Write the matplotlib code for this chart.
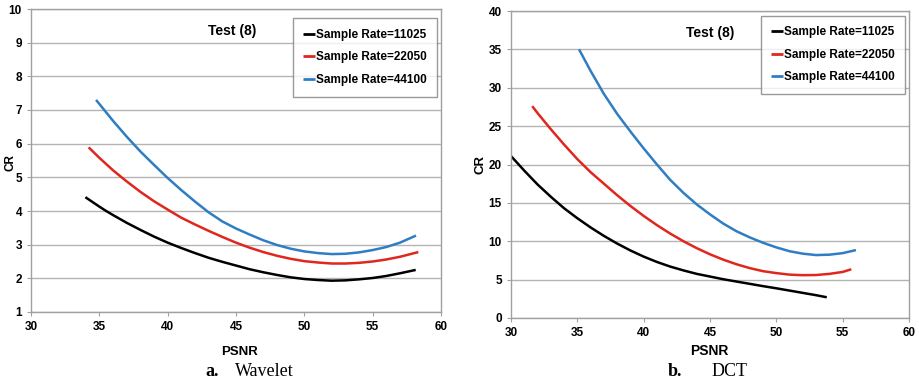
import matplotlib
matplotlib.use("Agg")
import matplotlib.pyplot as plt

# ---- data ----
wav_black_x = [33.98, 35, 35.5, 36, 37, 38, 39, 40, 41, 42, 43, 44, 45, 46, 47, 48, 49, 50,
               51, 52, 53, 54, 55, 56, 57, 58.15]
wav_black_y = [4.41, 4.13, 4.00, 3.88, 3.65, 3.44, 3.24, 3.06, 2.90, 2.75, 2.61, 2.49, 2.38,
               2.27, 2.18, 2.10, 2.03, 1.98, 1.95, 1.93, 1.94, 1.97, 2.01, 2.07, 2.15, 2.25]
wav_red_x = [34.22, 35, 36, 36.63, 37, 38, 39, 40.17, 41, 42, 43, 44, 45, 46, 47, 48, 49, 50,
             51, 52, 53, 54, 55, 56, 57, 58.34]
wav_red_y = [5.89, 5.58, 5.21, 5.00, 4.88, 4.57, 4.29, 4.00, 3.80, 3.60, 3.41, 3.23, 3.06,
             2.91, 2.78, 2.67, 2.58, 2.51, 2.47, 2.44, 2.44, 2.46, 2.50, 2.56, 2.64, 2.78]
wav_blue_x = [34.76, 35, 36, 37, 38, 39, 40, 41, 42, 43, 44, 45, 46, 47, 48, 49, 50, 51, 52,
              53, 54, 55, 56, 57, 58.17]
wav_blue_y = [7.30, 7.18, 6.68, 6.21, 5.77, 5.37, 4.98, 4.62, 4.28, 3.96, 3.69, 3.48, 3.30,
              3.13, 2.99, 2.88, 2.80, 2.75, 2.72, 2.73, 2.77, 2.84, 2.93, 3.06, 3.27]

dct_black_x = [30, 31, 32, 33, 34, 35, 36, 37, 38, 39, 40, 41, 42, 43, 44, 45, 46, 47, 48, 49,
               50, 51, 52, 53, 53.8]
dct_black_y = [21.1, 19.2, 17.4, 15.8, 14.3, 13.0, 11.8, 10.7, 9.7, 8.8, 8.0, 7.3, 6.7, 6.2,
               5.75, 5.4, 5.05, 4.75, 4.45, 4.15, 3.87, 3.57, 3.27, 2.97, 2.7]
dct_red_x = [31.6, 32, 33, 34, 35, 36, 37, 38, 39, 40, 41, 42, 43, 44, 45, 46, 47, 48, 49, 50,
             51, 52, 53, 54, 55, 55.65]
dct_red_y = [27.6, 26.7, 24.6, 22.6, 20.7, 19.0, 17.5, 16.0, 14.6, 13.3, 12.1, 11.0, 10.0,
             9.1, 8.3, 7.6, 7.0, 6.5, 6.1, 5.85, 5.65, 5.58, 5.6, 5.75, 6.0, 6.35]
dct_blue_x = [35.13, 36, 37, 38, 39, 40, 41, 42, 43, 44, 45, 46, 47, 48, 49, 50, 51, 52, 53,
              54, 55, 56]
dct_blue_y = [35.0, 32.2, 29.2, 26.6, 24.3, 22.1, 20.0, 18.0, 16.3, 14.8, 13.5, 12.3, 11.3,
              10.5, 9.8, 9.2, 8.7, 8.38, 8.2, 8.25, 8.45, 8.85]

series_labels = ["Sample Rate=11025", "Sample Rate=22050", "Sample Rate=44100"]
colors = ["#000000", "#e0261d", "#2f7dc3"]

xticks = [30, 35, 40, 45, 50, 55, 60]
wav_yticks = [1, 2, 3, 4, 5, 6, 7, 8, 9, 10]
dct_yticks = [0, 5, 10, 15, 20, 25, 30, 35, 40]

SANS = ["Liberation Sans", "DejaVu Sans"]
plt.rcParams["font.family"] = SANS
plt.rcParams["font.weight"] = "bold"

fig = plt.figure(figsize=(9.2, 3.86), dpi=100)
ax1 = fig.add_axes([31/920, 1-312/386, 410/920, 303/386])
ax2 = fig.add_axes([511/920, 1-318/386, 398/920, 307/386])

def style(ax, yticks, ylim):
    ax.set_xlim(30, 60)
    ax.set_ylim(*ylim)
    ax.set_xticks(xticks)
    ax.set_yticks(yticks)
    ax.grid(axis="y", color="#b4b4b4", linewidth=1.0)
    ax.set_axisbelow(True)
    for s in ax.spines.values():
        s.set_color("#a0a0a0")
        s.set_linewidth(1.0)
    ax.tick_params(axis="both", labelsize=8.5, colors="#000000", length=3,
                   color="#a0a0a0", width=0.8)
    for lab in ax.get_xticklabels() + ax.get_yticklabels():
        lab.set_fontweight("bold")

style(ax1, wav_yticks, (1, 10))
style(ax2, dct_yticks, (0, 40))

for ax, data in [
    (ax1, [(wav_black_x, wav_black_y), (wav_red_x, wav_red_y), (wav_blue_x, wav_blue_y)]),
    (ax2, [(dct_black_x, dct_black_y), (dct_red_x, dct_red_y), (dct_blue_x, dct_blue_y)]),
]:
    for (x, y), c, lab in zip(data, colors, series_labels):
        ax.plot(x, y, color=c, linewidth=1.8, label=lab, solid_capstyle="butt",
                solid_joinstyle="round")
    leg = ax.legend(loc="upper right", bbox_to_anchor=(0.99, 0.97) if ax is ax1 else (0.99, 0.985),
                    fontsize=8.5, frameon=True, fancybox=False, edgecolor="#808080",
                    handlelength=1.0, handletextpad=0.05, labelspacing=0.9,
                    borderpad=0.9, borderaxespad=0.0)
    leg.get_frame().set_linewidth(1.0)
    for line in leg.get_lines():
        line.set_linewidth(2.0)
    for t in leg.get_texts():
        t.set_fontweight("bold")

ax1.text(0.49, 0.95, "Test (8)", transform=ax1.transAxes, ha="center", va="top",
         fontsize=10, fontweight="bold")
ax2.text(0.50, 0.95, "Test (8)", transform=ax2.transAxes, ha="center", va="top",
         fontsize=10, fontweight="bold")

fig.text(11/920, 1-163/386, "CR", rotation=90, ha="center", va="center",
         fontsize=8.5, fontweight="bold")
fig.text(481/920, 1-165/386, "CR", rotation=90, ha="center", va="center",
         fontsize=9.5, fontweight="bold")
fig.text(240/920, 1-352/386, "PSNR", ha="center", va="center", fontsize=9.5, fontweight="bold")
fig.text(709/920, 1-351/386, "PSNR", ha="center", va="center", fontsize=10, fontweight="bold")

SERIF = ["Liberation Serif", "DejaVu Serif"]
fig.text(212/920, 1-371/386, "a.", ha="center", va="center", fontsize=13, fontweight="bold", family=SERIF)
fig.text(264/920, 1-371/386, "Wavelet", ha="center", va="center", fontsize=13, fontweight="normal", family=SERIF)
fig.text(675/920, 1-371/386, "b.", ha="center", va="center", fontsize=13, fontweight="bold", family=SERIF)
fig.text(730/920, 1-371/386, "DCT", ha="center", va="center", fontsize=13, fontweight="normal", family=SERIF)

fig.savefig("out.png", dpi=100)
